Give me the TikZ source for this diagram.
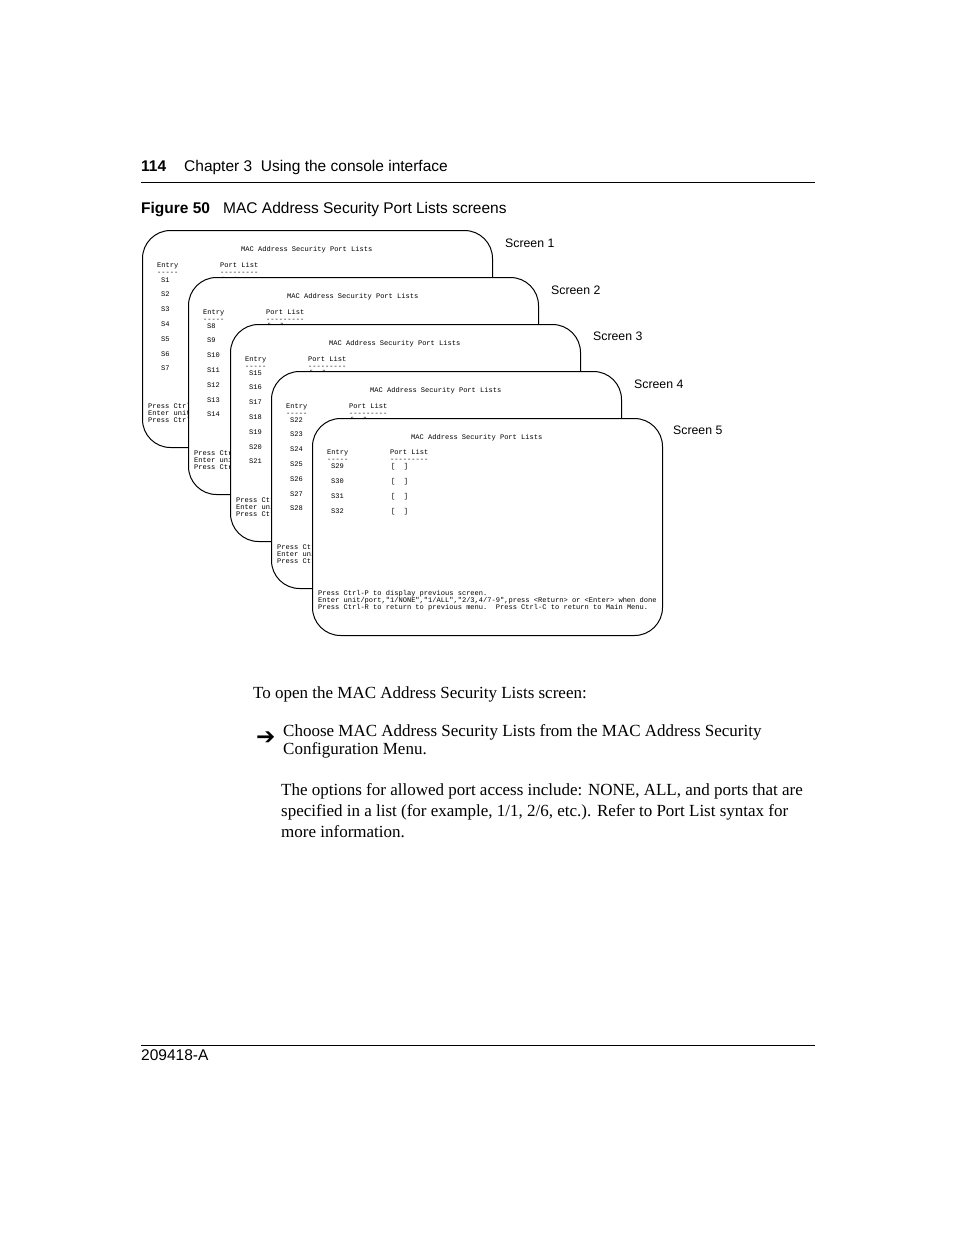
\documentclass[tikz,border=0pt]{standalone}
\usepackage{fontspec}
\setmainfont{Liberation Serif}
\setsansfont{Liberation Sans}
\setmonofont{Liberation Mono}
\newfontfamily\symfont{DejaVu Sans}
\usetikzlibrary{positioning}

\newcommand{\portfoot}{Press Ctrl-P to display previous screen.\\
Enter unit/port,"1/NONE","1/ALL","2/3,4/7-9",press <Return> or <Enter> when done\\
Press Ctrl-R to return to previous menu.\ \ Press Ctrl-C to return to Main Menu.}

\begin{document}
\begin{tikzpicture}[x=1pt, y=1pt,
  head/.style={font=\fontsize{15.5}{18}\selectfont\sffamily, anchor=base west, inner sep=0},
  tag/.style={font=\fontsize{12.3}{14}\selectfont\sffamily, anchor=base west, inner sep=0},
  body/.style={font=\fontsize{17}{21}\selectfont\rmfamily, anchor=base west, inner sep=0, align=left},
  screen/.style={draw, line width=1pt, fill=white, rounded corners=28pt, anchor=north west,
                 minimum width=350pt, minimum height=217pt, inner sep=0},
  term/.style={font=\fontsize{7.05}{7}\selectfont\ttfamily, anchor=base west, inner sep=0, align=left},
  rule/.style={line width=0.8pt}
]
\useasboundingbox (0,0) rectangle (954,-1235);

%% Page header
\node[head, font=\fontsize{15.5}{18}\selectfont\sffamily\bfseries] (page) at (141,-171.5) {114};
\node[head] (chap) at (184,-171.5) {Chapter 3\ \ Using the console interface};
\coordinate (hl) at (141,-182);
\coordinate (hr) at (815,-182);
\draw[rule] (hl) -- (hr);
\node[head, font=\fontsize{15.5}{18}\selectfont\sffamily\bfseries] (fig) at (141,-213.5) {Figure 50};
\node[head] (cap) at (223,-213.5) {MAC Address Security Port Lists screens};

%% Screen 1
\node[screen] (scr1) at (142,-230) {};
\node[tag] (lab1) at ([shift={(12,-17.5)}]scr1.north east) {Screen 1};
\node[term] (title1) at ([shift={(99,-21.5)}]scr1.north west) {MAC Address Security Port Lists};
\node[term] (entry1) at ([shift={(15,-44.5)}]scr1.north west) {Entry\\-----};
\node[term] (list1) at ([shift={(78,-44.5)}]scr1.north west) {Port List\\---------};
\foreach \k [count=\r from 0] in {1,...,7} {
  \node[term] (s\k) at ([shift={(19,{-52-14.8*\r})}]scr1.north west) {S\k};
  \node[term] (p\k) at ([shift={(79,{-52-14.8*\r})}]scr1.north west) {[\ \ ]};
}
\node[term] (foot1) at ([shift={(6,-192)}]scr1.north west) {\portfoot};

%% Screen 2
\node[screen] (scr2) at (188,-277) {};
\node[tag] (lab2) at ([shift={(12,-17.5)}]scr2.north east) {Screen 2};
\node[term] (title2) at ([shift={(99,-21.5)}]scr2.north west) {MAC Address Security Port Lists};
\node[term] (entry2) at ([shift={(15,-44.5)}]scr2.north west) {Entry\\-----};
\node[term] (list2) at ([shift={(78,-44.5)}]scr2.north west) {Port List\\---------};
\foreach \k [count=\r from 0] in {8,...,14} {
  \node[term] (s\k) at ([shift={(19,{-51-14.8*\r})}]scr2.north west) {S\k};
  \node[term] (p\k) at ([shift={(79,{-51-14.8*\r})}]scr2.north west) {[\ \ ]};
}
\node[term] (foot2) at ([shift={(6,-192)}]scr2.north west) {\portfoot};

%% Screen 3
\node[screen] (scr3) at (230,-324) {};
\node[tag] (lab3) at ([shift={(12,-16.5)}]scr3.north east) {Screen 3};
\node[term] (title3) at ([shift={(99,-21.5)}]scr3.north west) {MAC Address Security Port Lists};
\node[term] (entry3) at ([shift={(15,-44.5)}]scr3.north west) {Entry\\-----};
\node[term] (list3) at ([shift={(78,-44.5)}]scr3.north west) {Port List\\---------};
\foreach \k [count=\r from 0] in {15,...,21} {
  \node[term] (s\k) at ([shift={(19,{-51-14.8*\r})}]scr3.north west) {S\k};
  \node[term] (p\k) at ([shift={(79,{-51-14.8*\r})}]scr3.north west) {[\ \ ]};
}
\node[term] (foot3) at ([shift={(6,-192)}]scr3.north west) {\portfoot};

%% Screen 4
\node[screen] (scr4) at (271,-371) {};
\node[tag] (lab4) at ([shift={(12,-17.5)}]scr4.north east) {Screen 4};
\node[term] (title4) at ([shift={(99,-21.5)}]scr4.north west) {MAC Address Security Port Lists};
\node[term] (entry4) at ([shift={(15,-44.5)}]scr4.north west) {Entry\\-----};
\node[term] (list4) at ([shift={(78,-44.5)}]scr4.north west) {Port List\\---------};
\foreach \k [count=\r from 0] in {22,...,28} {
  \node[term] (s\k) at ([shift={(19,{-51-14.8*\r})}]scr4.north west) {S\k};
  \node[term] (p\k) at ([shift={(79,{-51-14.8*\r})}]scr4.north west) {[\ \ ]};
}
\node[term] (foot4) at ([shift={(6,-192)}]scr4.north west) {\portfoot};

%% Screen 5
\node[screen] (scr5) at (312,-418) {};
\node[tag] (lab5) at ([shift={(10,-16.5)}]scr5.north east) {Screen 5};
\node[term] (title5) at ([shift={(99,-21.5)}]scr5.north west) {MAC Address Security Port Lists};
\node[term] (entry5) at ([shift={(15,-43.5)}]scr5.north west) {Entry\\-----};
\node[term] (list5) at ([shift={(78,-43.5)}]scr5.north west) {Port List\\---------};
\foreach \k [count=\r from 0] in {29,...,32} {
  \node[term] (s\k) at ([shift={(19,{-50-15*\r})}]scr5.north west) {S\k};
  \node[term] (p\k) at ([shift={(79,{-50-15*\r})}]scr5.north west) {[\ \ ]};
}
\node[term] (foot5) at ([shift={(6,-191)}]scr5.north west) {\portfoot};

%% Body text
\node[body] (intro) at (253,-698.6) {To open the MAC Address Security Lists screen:};
\node[body, font=\fontsize{23}{23}\selectfont\symfont] (arr) at (256,-744) {➔};
\node[body, font=\fontsize{17}{18}\selectfont\rmfamily] (step) at (283,-754.6)
  {Choose MAC Address Security Lists from the MAC Address Security\\Configuration Menu.};
\node[body] (note) at (281,-837.6)
  {The options for allowed port access include: NONE, ALL, and ports that are\\
   specified in a list (for example, 1/1, 2/6, etc.). Refer to Port List syntax for\\
   more information.};

%% Page footer
\coordinate (fl) at (141,-1045);
\coordinate (fr) at (815,-1045);
\draw[rule] (fl) -- (fr);
\node[head] (docno) at (141,-1060.5) {209418-A};

\end{tikzpicture}
\end{document}
